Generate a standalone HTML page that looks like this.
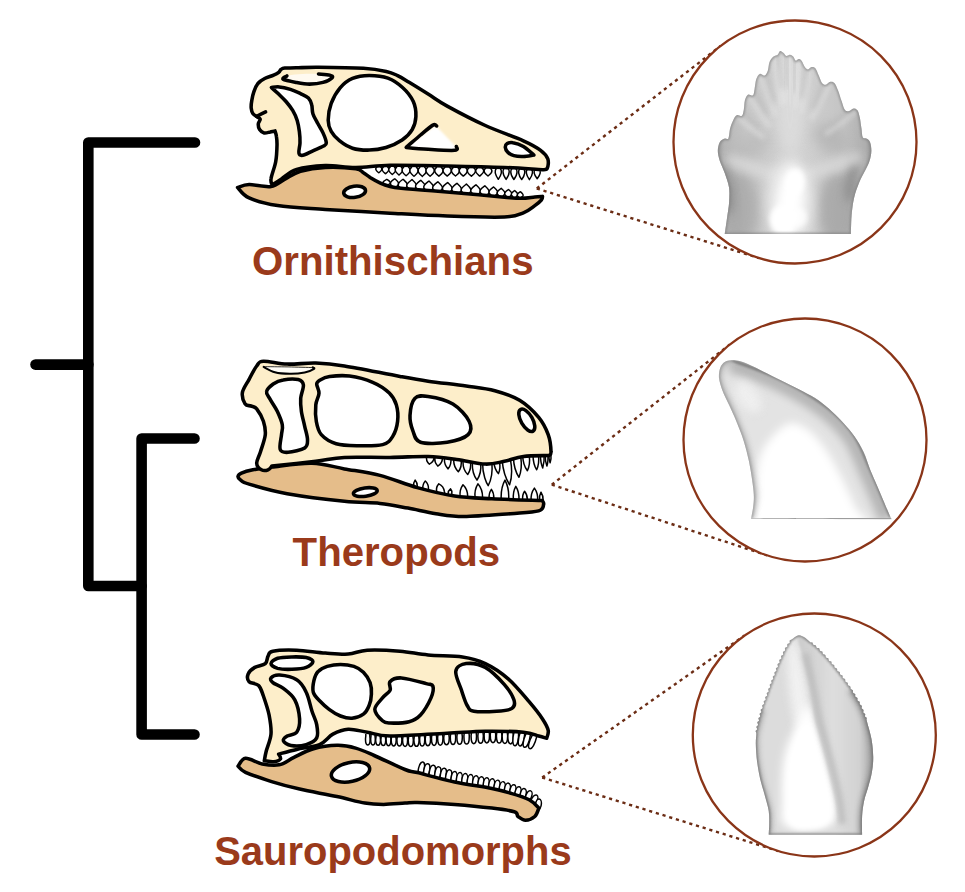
<!DOCTYPE html>
<html><head><meta charset="utf-8"><title>Dinosaur teeth</title>
<style>html,body{margin:0;padding:0;background:#fff}svg{display:block}</style></head>
<body><svg width="965" height="892" viewBox="0 0 965 892">
<rect width="965" height="892" fill="#fff"/>
<g fill="none" stroke="#000" stroke-width="10.6" stroke-linecap="round" stroke-linejoin="round">
<path d="M195 142.5H88.3V586H141.5"/>
<path d="M35.5 364.6H88.3"/>
<path d="M194.5 438.5H141.6V734.5H194.5"/>
</g>
<g font-family="Liberation Sans, sans-serif" font-weight="700" fill="#9a3a1b" font-size="41.5px">
<text x="252" y="274.8" textLength="281.5" lengthAdjust="spacingAndGlyphs">Ornithischians</text>
<text x="292.6" y="566.4" textLength="207.5" lengthAdjust="spacingAndGlyphs">Theropods</text>
<text x="214.2" y="864.7" textLength="357.5" lengthAdjust="spacingAndGlyphs">Sauropodomorphs</text>
</g>
<g fill="none" stroke="#8a3518">
<path d="M536.8 188.5L720.5 46.0" stroke="#6b2c14" stroke-width="2.4" stroke-dasharray="3.2 3.8"/>
<path d="M536.8 188.5L758.7 258.0" stroke="#6b2c14" stroke-width="2.4" stroke-dasharray="3.2 3.8"/>
<path d="M551.8 484.7L729.8 344.5" stroke="#6b2c14" stroke-width="2.4" stroke-dasharray="3.2 3.8"/>
<path d="M551.8 484.7L767.1 555.4" stroke="#6b2c14" stroke-width="2.4" stroke-dasharray="3.2 3.8"/>
<path d="M542.2 777.5L744.5 635.5" stroke="#6b2c14" stroke-width="2.4" stroke-dasharray="3.2 3.8"/>
<path d="M542.2 777.5L778.2 851.0" stroke="#6b2c14" stroke-width="2.4" stroke-dasharray="3.2 3.8"/>
<circle cx="795" cy="142" r="121.5" stroke-width="2.3" fill="#fff"/>
<circle cx="805" cy="440" r="121.5" stroke-width="2.3" fill="#fff"/>
<circle cx="814.3" cy="735" r="121.5" stroke-width="2.3" fill="#fff"/>
</g>
<defs>
<filter id="b1" x="-50%" y="-50%" width="200%" height="200%"><feGaussianBlur stdDeviation="1.2"/></filter>
<filter id="b2" x="-50%" y="-50%" width="200%" height="200%"><feGaussianBlur stdDeviation="2.5"/></filter>
<filter id="b4" x="-50%" y="-50%" width="200%" height="200%"><feGaussianBlur stdDeviation="4"/></filter>
<filter id="b6" x="-50%" y="-50%" width="200%" height="200%"><feGaussianBlur stdDeviation="6"/></filter>
<filter id="b9" x="-50%" y="-50%" width="200%" height="200%"><feGaussianBlur stdDeviation="9"/></filter>
<filter id="b14" x="-50%" y="-50%" width="200%" height="200%"><feGaussianBlur stdDeviation="14"/></filter>
<clipPath id="c1"><path d="M724.7 234.1C725.1 231.3 726.4 222.6 727.1 217.4C727.9 212.1 728.8 207.5 729.1 202.6C729.4 197.7 729.8 192.7 729.1 187.8C728.4 182.9 726.2 177.5 724.7 173C723.1 168.5 720.9 164.4 719.7 160.7C718.6 157 717.8 153.9 717.8 150.8C717.8 147.7 718.6 144.2 719.7 142.2C720.9 140.1 723.2 139.1 724.7 138.5C726.1 137.9 727.4 140.1 728.4 138.5C729.3 136.8 729.3 131.7 730.1 128.6C730.9 125.5 732.1 122.3 733.3 120C734.4 117.7 735.5 115.8 737 115.1C738.4 114.4 740.8 116.8 741.9 115.8C743.1 114.8 743.4 111.5 743.9 108.9C744.4 106.3 744.2 102.6 744.9 100.3C745.6 97.9 746.7 95.4 748.1 94.6C749.4 93.8 751.9 96.4 753 95.3C754.1 94.2 754.2 90.6 754.7 87.9C755.3 85.3 755.4 81.7 756.2 79.3C757 77 758.3 74.5 759.7 73.9C761.1 73.3 763.2 76.1 764.6 75.6C766 75.1 767 72.9 767.8 70.7C768.6 68.4 768.6 64.4 769.5 62.1C770.5 59.7 772.1 57.9 773.5 56.6C774.8 55.4 776.6 55.6 777.7 54.7C778.8 53.7 779.2 51.3 780.1 51C781.1 50.6 782.3 51.9 783.3 52.7C784.4 53.5 785.2 55.6 786.3 55.9C787.4 56.2 788.8 54.5 790 54.7C791.1 54.8 792.3 55.6 793.2 56.6C794.1 57.7 794.8 60.4 795.7 60.8C796.6 61.2 797.6 59.1 798.6 59.1C799.6 59.1 800.6 59.5 801.6 60.8C802.6 62.1 803.7 65.5 804.8 67C805.9 68.4 806.9 69.4 808 69.4C809.1 69.4 810.2 67.2 811.4 67C812.7 66.8 814.2 66.8 815.4 68.2C816.6 69.7 817.7 73.1 818.8 75.6C819.9 78.1 820.9 81.5 822 83C823.2 84.5 824.4 84.9 825.7 84.7C827.1 84.5 828.7 82.1 830.2 81.8C831.6 81.5 833.1 81.6 834.4 83C835.7 84.4 836.8 87.3 838.1 90.4C839.3 93.5 840.6 98.2 841.8 101.5C842.9 104.8 843.7 108.6 845 110.1C846.2 111.7 847.8 111.2 849.2 110.9C850.6 110.6 852 108.5 853.4 108.4C854.7 108.3 856.2 108.6 857.3 110.1C858.4 111.6 859.1 114.4 859.8 117.5C860.5 120.6 861 125.3 861.5 128.6C862 131.9 861.9 135.6 862.7 137.2C863.5 138.9 865.2 137.7 866.4 138.5C867.7 139.3 869.3 140.1 870.1 142.2C870.9 144.2 871.4 147.7 871.4 150.8C871.3 153.9 870.7 157.4 869.6 160.7C868.6 164 867 166.8 865.2 170.5C863.4 174.2 860.9 178.3 859 182.9C857.2 187.4 855.3 192.3 854.1 197.7C852.9 203 852.2 208.8 851.6 214.9C851.1 221 851 230.9 850.9 234.1C829.8 234.1 745.7 234.1 724.7 234.1Z"/></clipPath>
<linearGradient id="g1" x1="0" x2="1" y1="0" y2="0"><stop offset="0" stop-color="#949494"/><stop offset="0.06" stop-color="#b6b6b6"/><stop offset="0.2" stop-color="#c8c8c8"/><stop offset="0.5" stop-color="#d4d4d4"/><stop offset="0.8" stop-color="#c4c4c4"/><stop offset="0.94" stop-color="#aeaeae"/><stop offset="1" stop-color="#8e8e8e"/></linearGradient>
<clipPath id="c2"><path d="M751.1 518.6C751.5 516.5 752.9 509.8 753.3 505.8C753.8 501.8 754 499.1 753.8 494.6C753.6 490.2 752.8 484.6 752 479C751.2 473.3 750.2 467.4 748.9 461C747.5 454.7 745.7 447.2 743.7 440.9C741.7 434.5 739.4 428.9 737 422.9C734.6 416.9 731.6 410.4 729.1 405C726.7 399.6 724.1 394.9 722.4 390.4C720.7 385.9 719.4 381.8 719 378.1C718.7 374.4 719.2 370.7 720.2 368C721.1 365.3 722.8 363.3 724.7 362C726.5 360.7 728.8 360.3 731.4 360.2C734 360.1 737 360.4 740.3 361.3C743.7 362.2 747.1 363.7 751.5 365.8C756 367.8 761.6 370.8 767.2 373.6C772.8 376.4 779.2 379.6 785.2 382.6C791.1 385.6 797.5 388.6 803.1 391.5C808.7 394.5 813.9 397.1 818.8 400.5C823.6 403.9 828.1 408 832.2 411.7C836.3 415.5 839.7 418.8 843.4 422.9C847.2 427 851.3 431.5 854.6 436.4C858 441.2 861 446.5 863.6 452.1C866.2 457.7 868.1 464.4 870.3 470C872.6 475.6 874.8 480.4 877.1 485.7C879.3 490.9 881.5 496.1 883.8 501.4C886 506.6 889.2 514.1 890.5 517.1C891.8 520 891.6 518.9 891.8 519.3C868.4 519.2 774.6 518.7 751.1 518.6Z"/></clipPath>
<clipPath id="c3"><path d="M768.7 834.7C768.8 832.8 769.2 827.8 769.2 823.8C769.2 819.9 769.4 815.6 768.7 810.9C768 806.2 766.2 800.6 764.8 795.4C763.5 790.3 761.7 785.5 760.4 780C759.2 774.4 757.9 767.9 757.1 761.9C756.3 755.9 755.9 748.6 755.8 743.8C755.7 739.1 756.4 735.6 756.3 733.5C756.3 731.4 755.3 731.8 755.5 731.1C755.6 730.4 757 729.9 757.2 729.2C757.3 728.5 756.2 727.5 756.3 726.8C756.5 726.1 757.9 725.6 758 724.9C758.2 724.2 757.1 723.1 757.3 722.4C757.4 721.7 758.9 721.3 759.1 720.6C759.3 719.9 758.2 718.9 758.4 718.2C758.6 717.5 760 717.1 760.2 716.4C760.4 715.7 759.4 714.6 759.6 713.9C759.8 713.2 761.2 712.8 761.4 712.1C761.6 711.4 760.5 710.4 760.7 709.7C760.9 709 762.4 708.6 762.6 707.9C762.9 707.2 761.9 706.1 762.2 705.4C762.4 704.7 763.9 704.5 764.1 703.8C764.4 703.1 763.4 702 763.7 701.3C763.9 700.6 765.4 700.3 765.7 699.7C765.9 699 764.9 697.8 765.2 697.1C765.4 696.5 766.9 696.2 767.2 695.5C767.4 694.8 766.4 693.7 766.7 693C766.9 692.3 768.4 692.1 768.7 691.4C768.9 690.7 767.9 689.6 768.2 688.9C768.4 688.2 769.9 687.9 770.2 687.3C770.4 686.6 769.4 685.4 769.7 684.7C769.9 684.1 771.4 683.8 771.7 683.1C771.9 682.4 770.9 681.3 771.2 680.6C771.5 679.9 772.9 679.7 773.2 679C773.5 678.3 772.5 677.2 772.8 676.5C773 675.8 774.5 675.6 774.8 674.9C775 674.2 774.1 673.1 774.4 672.4C774.6 671.7 776.1 671.5 776.4 670.8C776.6 670.1 775.7 669 775.9 668.3C776.2 667.6 777.7 667.4 777.9 666.7C778.2 666 777.2 664.9 777.5 664.2C777.8 663.5 779.3 663.3 779.6 662.6C779.9 661.9 779 660.7 779.3 660.1C779.6 659.4 781.1 659.3 781.4 658.6C781.7 657.9 780.8 656.7 781.1 656.1C781.4 655.4 782.9 655.3 783.2 654.6C783.5 653.9 782.7 652.7 783 652.1C783.3 651.4 784.7 651.3 785 650.6C785.4 649.9 784.6 648.6 785 648C785.4 647.4 786.9 647.4 787.3 646.8C787.6 646.2 786.9 644.9 787.3 644.3C787.7 643.6 789.2 643.7 789.6 643.1C790 642.5 789.3 641.2 789.7 640.5C790 639.9 790.6 640.2 791.9 639.3C793.2 638.5 795.7 635.9 797.6 635.5C799.5 635 801.5 635.7 803.5 636.8C805.6 637.8 808.5 641 810 641.9C811.5 642.9 811.9 642 812.4 642.5C813 643 812.8 644.3 813.4 644.8C813.9 645.3 815.2 644.9 815.8 645.4C816.4 645.9 816.2 647.2 816.7 647.7C817.3 648.2 818.6 647.8 819.2 648.3C819.7 648.8 819.5 650.2 820 650.8C820.5 651.3 821.8 651.1 822.3 651.6C822.8 652.2 822.5 653.5 823 654.1C823.5 654.6 824.8 654.4 825.3 655C825.8 655.5 825.5 656.8 826 657.4C826.5 657.9 827.8 657.7 828.3 658.3C828.8 658.8 828.4 660.1 828.9 660.7C829.4 661.2 830.8 661 831.3 661.6C831.8 662.1 831.4 663.5 831.8 664.1C832.3 664.7 833.7 664.5 834.1 665.1C834.6 665.7 834.1 667 834.6 667.6C835.1 668.1 836.4 668 836.9 668.6C837.4 669.2 836.9 670.5 837.4 671C837.9 671.6 839.2 671.5 839.7 672.1C840.2 672.6 839.7 673.9 840.2 674.5C840.6 675.1 842 675 842.5 675.6C842.9 676.2 842.4 677.5 842.8 678.1C843.3 678.7 844.7 678.6 845.1 679.2C845.5 679.8 845 681.1 845.5 681.7C845.9 682.3 847.3 682.2 847.7 682.8C848.1 683.4 847.6 684.7 848.1 685.3C848.5 685.9 849.9 685.8 850.3 686.4C850.8 687 850.3 688.3 850.7 688.9C851.1 689.5 852.5 689.5 852.9 690.2C853.3 690.8 852.7 692 853 692.7C853.4 693.3 854.8 693.4 855.2 694C855.5 694.7 854.9 695.9 855.3 696.5C855.6 697.2 857 697.2 857.4 697.9C857.8 698.5 857.1 699.7 857.5 700.4C857.9 701 859.3 701.1 859.6 701.7C860 702.4 859.4 703.6 859.8 704.2C860.1 704.9 861.5 705.1 861.8 705.8C862.1 706.5 861.3 707.6 861.6 708.3C861.9 709 863.2 709.2 863.5 709.9C863.8 710.6 863 711.7 863.3 712.4C863.6 713.1 865 713.3 865.2 714C865.5 714.7 864.7 715.8 865 716.5C865.3 717.2 866.7 717.4 867 718.1C867.2 718.8 866 717.2 866.7 720.6C867.5 724 870.3 732.7 871.4 738.7C872.5 744.7 873.1 751.1 873.2 756.7C873.3 762.3 872.8 767.1 871.9 772.2C871 777.4 869.3 783 868 787.7C866.7 792.4 865.1 795.9 864.2 800.6C863.2 805.3 862.4 810.4 862.1 816.1C861.8 821.8 862.1 831.6 862.1 834.7C846.5 834.7 784.3 834.7 768.7 834.7Z"/></clipPath>
<linearGradient id="g3" gradientUnits="userSpaceOnUse" x1="800" x2="874" y1="0" y2="0"><stop offset="0" stop-color="#cdcdcd"/><stop offset="0.45" stop-color="#dedede"/><stop offset="0.8" stop-color="#d2d2d2"/><stop offset="1" stop-color="#a8a8a8"/></linearGradient>
</defs>
<g clip-path="url(#c1)">
<rect x="715" y="45" width="160" height="195" fill="url(#g1)"/>
<ellipse cx="790" cy="101.5" rx="13.6" ry="54.2" fill="#dcdcdc" opacity="0.9" transform="rotate(0 790 101.5)" filter="url(#b6)"/>
<ellipse cx="830.7" cy="138.5" rx="18.5" ry="13.6" fill="#ababab" opacity="0.55" transform="rotate(35 830.7 138.5)" filter="url(#b6)"/>
<ellipse cx="753" cy="145.9" rx="18.5" ry="12.3" fill="#b0b0b0" opacity="0.45" transform="rotate(-30 753 145.9)" filter="url(#b6)"/>
<path d="M739.4 118.8L762.7 137.1" stroke="#e6e6e6" stroke-width="3.9" stroke-linecap="round" fill="none" filter="url(#b2)" opacity="0.6"/>
<path d="M750.5 98.3L768.8 125.8" stroke="#e6e6e6" stroke-width="3.9" stroke-linecap="round" fill="none" filter="url(#b2)" opacity="0.6"/>
<path d="M761.6 77.8L775 114.6" stroke="#e6e6e6" stroke-width="3.9" stroke-linecap="round" fill="none" filter="url(#b2)" opacity="0.6"/>
<path d="M775.2 59.1L782.4 104.3" stroke="#e6e6e6" stroke-width="3.9" stroke-linecap="round" fill="none" filter="url(#b2)" opacity="0.6"/>
<path d="M781.4 55.6L785.8 102.4" stroke="#e6e6e6" stroke-width="3.9" stroke-linecap="round" fill="none" filter="url(#b2)" opacity="0.6"/>
<path d="M790 58.4L790.5 103.9" stroke="#e6e6e6" stroke-width="3.9" stroke-linecap="round" fill="none" filter="url(#b2)" opacity="0.6"/>
<path d="M798.6 62.8L795.3 106.3" stroke="#e6e6e6" stroke-width="3.9" stroke-linecap="round" fill="none" filter="url(#b2)" opacity="0.6"/>
<path d="M809.7 71.9L801.4 111.3" stroke="#e6e6e6" stroke-width="3.9" stroke-linecap="round" fill="none" filter="url(#b2)" opacity="0.6"/>
<path d="M828.7 86L811.8 119.1" stroke="#e6e6e6" stroke-width="3.9" stroke-linecap="round" fill="none" filter="url(#b2)" opacity="0.6"/>
<path d="M855.3 112.3L826.5 133.6" stroke="#e6e6e6" stroke-width="3.9" stroke-linecap="round" fill="none" filter="url(#b2)" opacity="0.6"/>
<path d="M743.9 112.6L758.1 127.8" stroke="#a6a6a6" stroke-width="3" stroke-linecap="round" fill="none" filter="url(#b2)" opacity="0.4"/>
<path d="M754.7 91.6L765.7 113.1" stroke="#a6a6a6" stroke-width="3" stroke-linecap="round" fill="none" filter="url(#b2)" opacity="0.4"/>
<path d="M766.6 74.9L774 101.4" stroke="#a6a6a6" stroke-width="3" stroke-linecap="round" fill="none" filter="url(#b2)" opacity="0.4"/>
<path d="M778.4 55.1L782.2 87.5" stroke="#a6a6a6" stroke-width="3" stroke-linecap="round" fill="none" filter="url(#b2)" opacity="0.4"/>
<path d="M785.6 54.7L787.3 87.2" stroke="#a6a6a6" stroke-width="3" stroke-linecap="round" fill="none" filter="url(#b2)" opacity="0.4"/>
<path d="M794.9 60.6L793.8 91.3" stroke="#a6a6a6" stroke-width="3" stroke-linecap="round" fill="none" filter="url(#b2)" opacity="0.4"/>
<path d="M806 69L801.6 97.2" stroke="#a6a6a6" stroke-width="3" stroke-linecap="round" fill="none" filter="url(#b2)" opacity="0.4"/>
<path d="M823.3 84.2L813.7 107.9" stroke="#a6a6a6" stroke-width="3" stroke-linecap="round" fill="none" filter="url(#b2)" opacity="0.4"/>
<path d="M848.4 110.9L831.3 126.5" stroke="#a6a6a6" stroke-width="3" stroke-linecap="round" fill="none" filter="url(#b2)" opacity="0.4"/>
<ellipse cx="740.7" cy="210" rx="18.5" ry="37" fill="#9a9a9a" opacity="0.55" transform="rotate(0 740.7 210)" filter="url(#b6)"/>
<ellipse cx="838.1" cy="210" rx="19.7" ry="37" fill="#989898" opacity="0.6" transform="rotate(0 838.1 210)" filter="url(#b6)"/>
<ellipse cx="851.6" cy="180.4" rx="6.4" ry="22.2" fill="#868686" opacity="0.7" transform="rotate(8 851.6 180.4)" filter="url(#b4)"/>
<ellipse cx="727.6" cy="187.8" rx="5.9" ry="27.1" fill="#888888" opacity="0.7" transform="rotate(-6 727.6 187.8)" filter="url(#b4)"/>
<path d="M731.6 160.7L789.5 180.4L855.8 158.2" fill="none" stroke="#dedede" stroke-width="12.3" stroke-linecap="round" filter="url(#b4)" opacity="0.65"/>
<ellipse cx="790" cy="202.6" rx="23.4" ry="44.4" fill="#ececec" opacity="0.85" transform="rotate(0 790 202.6)" filter="url(#b6)"/>
<ellipse cx="790" cy="202.6" rx="12.8" ry="35.7" fill="#ffffff" opacity="1" transform="rotate(6 790 202.6)" filter="url(#b4)"/>
<ellipse cx="782.6" cy="219.8" rx="12.8" ry="14.8" fill="#ffffff" opacity="1" transform="rotate(0 782.6 219.8)" filter="url(#b2)"/>
<ellipse cx="794.9" cy="182.9" rx="9.4" ry="13.6" fill="#ffffff" opacity="0.95" transform="rotate(10 794.9 182.9)" filter="url(#b2)"/>
<ellipse cx="798.6" cy="217.4" rx="8.6" ry="9.9" fill="#ffffff" opacity="0.8" transform="rotate(0 798.6 217.4)" filter="url(#b2)"/>
<path d="M724.7 234.1C725.1 231.3 726.4 222.6 727.1 217.4C727.9 212.1 728.8 207.5 729.1 202.6C729.4 197.7 729.8 192.7 729.1 187.8C728.4 182.9 726.2 177.5 724.7 173C723.1 168.5 720.9 164.4 719.7 160.7C718.6 157 717.8 153.9 717.8 150.8C717.8 147.7 718.6 144.2 719.7 142.2C720.9 140.1 723.2 139.1 724.7 138.5C726.1 137.9 727.4 140.1 728.4 138.5C729.3 136.8 729.3 131.7 730.1 128.6C730.9 125.5 732.1 122.3 733.3 120C734.4 117.7 735.5 115.8 737 115.1C738.4 114.4 740.8 116.8 741.9 115.8C743.1 114.8 743.4 111.5 743.9 108.9C744.4 106.3 744.2 102.6 744.9 100.3C745.6 97.9 746.7 95.4 748.1 94.6C749.4 93.8 751.9 96.4 753 95.3C754.1 94.2 754.2 90.6 754.7 87.9C755.3 85.3 755.4 81.7 756.2 79.3C757 77 758.3 74.5 759.7 73.9C761.1 73.3 763.2 76.1 764.6 75.6C766 75.1 767 72.9 767.8 70.7C768.6 68.4 768.6 64.4 769.5 62.1C770.5 59.7 772.1 57.9 773.5 56.6C774.8 55.4 776.6 55.6 777.7 54.7C778.8 53.7 779.2 51.3 780.1 51C781.1 50.6 782.3 51.9 783.3 52.7C784.4 53.5 785.2 55.6 786.3 55.9C787.4 56.2 788.8 54.5 790 54.7C791.1 54.8 792.3 55.6 793.2 56.6C794.1 57.7 794.8 60.4 795.7 60.8C796.6 61.2 797.6 59.1 798.6 59.1C799.6 59.1 800.6 59.5 801.6 60.8C802.6 62.1 803.7 65.5 804.8 67C805.9 68.4 806.9 69.4 808 69.4C809.1 69.4 810.2 67.2 811.4 67C812.7 66.8 814.2 66.8 815.4 68.2C816.6 69.7 817.7 73.1 818.8 75.6C819.9 78.1 820.9 81.5 822 83C823.2 84.5 824.4 84.9 825.7 84.7C827.1 84.5 828.7 82.1 830.2 81.8C831.6 81.5 833.1 81.6 834.4 83C835.7 84.4 836.8 87.3 838.1 90.4C839.3 93.5 840.6 98.2 841.8 101.5C842.9 104.8 843.7 108.6 845 110.1C846.2 111.7 847.8 111.2 849.2 110.9C850.6 110.6 852 108.5 853.4 108.4C854.7 108.3 856.2 108.6 857.3 110.1C858.4 111.6 859.1 114.4 859.8 117.5C860.5 120.6 861 125.3 861.5 128.6C862 131.9 861.9 135.6 862.7 137.2C863.5 138.9 865.2 137.7 866.4 138.5C867.7 139.3 869.3 140.1 870.1 142.2C870.9 144.2 871.4 147.7 871.4 150.8C871.3 153.9 870.7 157.4 869.6 160.7C868.6 164 867 166.8 865.2 170.5C863.4 174.2 860.9 178.3 859 182.9C857.2 187.4 855.3 192.3 854.1 197.7C852.9 203 852.2 208.8 851.6 214.9C851.1 221 851 230.9 850.9 234.1C829.8 234.1 745.7 234.1 724.7 234.1Z" fill="none" stroke="#808080" stroke-width="2.6" filter="url(#b1)" opacity="0.75"/>
</g>
<g clip-path="url(#c2)">
<rect x="715" y="355" width="185" height="170" fill="#e3e3e3"/>
<path d="M731.4 360.2C737.4 362.4 755.3 368.4 767.2 373.6C779.2 378.8 792.3 385.2 803.1 391.5C813.9 397.9 823.6 404.2 832.2 411.7C840.8 419.2 848.3 426.7 854.6 436.4C861 446.1 864.4 456.5 870.3 470C876.3 483.4 887.1 509.2 890.5 517.1" fill="none" stroke="#b6b6b6" stroke-width="24" filter="url(#b4)"/>
<path d="M754.9 526C737.4 521.2 756.9 505.5 757.1 496.9C757.4 488.3 755.4 482.7 756.5 474.5C757.6 466.3 758.7 456 763.9 447.6C769 439.2 780.1 427 787.4 424C794.7 421.1 801 425.2 807.6 429.6C814.1 434.1 820.8 442.7 826.6 450.9C832.4 459.2 837.5 469.4 842.3 479C847.2 488.5 852.4 500.2 855.8 508.1C859.1 515.9 879.3 523 862.5 526C845.7 529 772.5 530.9 754.9 526Z" fill="#fff" filter="url(#b4)"/>
<ellipse cx="748.2" cy="397.1" rx="17.9" ry="10.1" fill="#f0f0f0" opacity="0.9" transform="rotate(55 748.2 397.1)" filter="url(#b4)"/>
<path d="M731.4 360.2C737.4 362.4 755.3 368.4 767.2 373.6C779.2 378.8 792.3 385.2 803.1 391.5C813.9 397.9 823.6 404.2 832.2 411.7C840.8 419.2 848.3 426.7 854.6 436.4C861 446.1 864.4 456.5 870.3 470C876.3 483.4 887.1 509.2 890.5 517.1" fill="none" stroke="#6e6e6e" stroke-width="2.4" filter="url(#b1)" opacity="0.85"/>
<path d="M731.4 360.2C730.3 360.5 726.5 360.7 724.7 362C722.8 363.3 721.1 365.3 720.2 368C719.2 370.7 718.7 374.4 719 378.1C719.4 381.8 720.7 385.9 722.4 390.4C724.1 394.9 726.7 399.6 729.1 405C731.6 410.4 734.6 416.9 737 422.9C739.4 428.9 741.7 434.5 743.7 440.9C745.7 447.2 747.5 454.7 748.9 461C750.2 467.4 751.2 473.3 752 479C752.8 484.6 753.6 490.2 753.8 494.6C754 499.1 753.8 501.8 753.3 505.8C752.9 509.8 751.5 516.5 751.1 518.6" fill="none" stroke="#a0a0a0" stroke-width="7" filter="url(#b2)" opacity="0.6"/>
<path d="M731.4 360.2C730.3 360.5 726.5 360.7 724.7 362C722.8 363.3 721.1 365.3 720.2 368C719.2 370.7 718.7 374.4 719 378.1C719.4 381.8 720.7 385.9 722.4 390.4C724.1 394.9 726.7 399.6 729.1 405C731.6 410.4 734.6 416.9 737 422.9C739.4 428.9 741.7 434.5 743.7 440.9C745.7 447.2 747.5 454.7 748.9 461C750.2 467.4 751.2 473.3 752 479C752.8 484.6 753.6 490.2 753.8 494.6C754 499.1 753.8 501.8 753.3 505.8C752.9 509.8 751.5 516.5 751.1 518.6" fill="none" stroke="#8c8c8c" stroke-width="2.2" filter="url(#b1)" opacity="0.75"/>
<path d="M751 518.6H892" stroke="#9c9c9c" stroke-width="1.2" fill="none"/>
</g>
<g clip-path="url(#c3)">
<rect x="750" y="630" width="130" height="210" fill="#dcdcdc"/>
<ellipse cx="799.1" cy="697.4" rx="8.8" ry="59.3" fill="#f2f2f2" opacity="0.95" transform="rotate(-8 799.1 697.4)" filter="url(#b4)"/>
<path d="M785.5 826.4C778.2 822.1 782 810.9 781.6 800.6C781.2 790.3 781.7 774.4 782.9 764.5C784.1 754.6 786.4 747.9 788.8 741.3C791.3 734.6 794.5 730.5 797.6 724.5C800.7 718.5 804.5 705.4 807.4 705.1C810.3 704.9 813 717.2 815.1 723.2C817.3 729.2 818.1 733.5 820.3 741.3C822.4 749 825.5 759.7 828 769.6C830.6 779.5 834.6 792.4 835.8 800.6C837 808.8 837 814.4 835.3 818.7C833.5 823 833.8 825.1 825.5 826.4C817.2 827.7 792.8 830.7 785.5 826.4Z" fill="#fff" filter="url(#b4)"/>
<path d="M791.9 826.4C787.4 821.7 788.6 810.5 788 800.6C787.5 790.7 787.5 776.9 788.8 767.1C790.1 757.2 792.7 748.6 795.8 741.3C798.9 733.9 804 723.2 807.4 723.2C810.8 723.2 813.6 733.5 816.4 741.3C819.2 749 821.8 759.7 824.2 769.6C826.5 779.5 829.8 792 830.6 800.6C831.5 809.2 831.9 816.5 829.3 821.2C826.7 826 821.4 828.1 815.1 829C808.9 829.8 796.4 831.1 791.9 826.4Z" fill="#fff" filter="url(#b2)"/>
<path d="M797.6 635.5C797 638.7 801.5 650.1 803.5 658.7C805.6 667.3 808 677.2 810 687.1C811.9 697 813.5 709.9 815.1 718C816.8 726.2 817.7 728.1 819.8 736.1C821.8 744.1 824.9 755.2 827.5 765.8C830.1 776.3 833.5 790.7 835.3 799.3C837 807.9 837.2 811.1 837.8 817.4C838.4 823.6 834.1 833.5 838.9 836.7C843.7 839.9 861.7 844.9 866.7 836.7C871.8 828.5 868 801 869.3 787.7C870.6 774.4 874.1 765.8 874.5 756.7C874.8 747.7 873.7 742.5 871.4 733.5C869 724.5 865.4 712.7 860.3 702.6C855.2 692.5 847.8 682 840.9 672.9C834.1 663.8 824.6 653.5 819 647.9C813.4 642.3 811 641.4 807.4 639.3C803.8 637.3 798.2 632.3 797.6 635.5Z" fill="url(#g3)" filter="url(#b1)"/>
<path d="M805.3 653.5C806.6 659.1 810.8 676.3 813.1 687.1C815.4 697.8 817.2 709.7 819 718C820.9 726.4 822 729.4 824.2 737.4C826.3 745.3 829.3 755.4 831.9 765.8C834.5 776.1 837.9 789.6 839.6 799.3C841.4 809 842 819.7 842.5 823.8" fill="none" stroke="#bdbdbd" stroke-width="7" filter="url(#b2)" opacity="0.9"/>
<path d="M851.3 689.7C852.8 692.2 857.7 700 860.3 705.1C862.9 710.3 864.9 715 866.7 720.6C868.6 726.2 870.3 732.7 871.4 738.7C872.5 744.7 873.1 751.1 873.2 756.7C873.3 762.3 872.8 767.1 871.9 772.2C871 777.4 869.3 783 868 787.7C866.7 792.4 865.1 795.9 864.2 800.6C863.2 805.3 862.4 810.4 862.1 816.1C861.8 821.8 862.1 831.6 862.1 834.7" fill="none" stroke="#8a8a8a" stroke-width="7" filter="url(#b2)" opacity="0.75"/>
<path d="M768.7 834.7C768.8 832.8 769.2 827.8 769.2 823.8C769.2 819.9 769.4 815.6 768.7 810.9C768 806.2 766.2 800.6 764.8 795.4C763.5 790.3 761.7 785.5 760.4 780C759.2 774.4 757.9 767.9 757.1 761.9C756.3 755.9 755.9 748.6 755.8 743.8C755.7 739.1 755.2 739.3 756.3 733.5C757.4 727.7 761.3 713.1 762.2 709" fill="none" stroke="#9a9a9a" stroke-width="6" filter="url(#b2)" opacity="0.7"/>
<path d="M768.7 834.7C768.8 832.8 769.2 827.8 769.2 823.8C769.2 819.9 769.4 815.6 768.7 810.9C768 806.2 766.2 800.6 764.8 795.4C763.5 790.3 761.7 785.5 760.4 780C759.2 774.4 757.9 767.9 757.1 761.9C756.3 755.9 755.9 748.6 755.8 743.8C755.7 739.1 756.4 735.6 756.3 733.5C756.3 731.4 755.3 731.8 755.5 731.1C755.6 730.4 757 729.9 757.2 729.2C757.3 728.5 756.2 727.5 756.3 726.8C756.5 726.1 757.9 725.6 758 724.9C758.2 724.2 757.1 723.1 757.3 722.4C757.4 721.7 758.9 721.3 759.1 720.6C759.3 719.9 758.2 718.9 758.4 718.2C758.6 717.5 760 717.1 760.2 716.4C760.4 715.7 759.4 714.6 759.6 713.9C759.8 713.2 761.2 712.8 761.4 712.1C761.6 711.4 760.5 710.4 760.7 709.7C760.9 709 762.4 708.6 762.6 707.9C762.9 707.2 761.9 706.1 762.2 705.4C762.4 704.7 763.9 704.5 764.1 703.8C764.4 703.1 763.4 702 763.7 701.3C763.9 700.6 765.4 700.3 765.7 699.7C765.9 699 764.9 697.8 765.2 697.1C765.4 696.5 766.9 696.2 767.2 695.5C767.4 694.8 766.4 693.7 766.7 693C766.9 692.3 768.4 692.1 768.7 691.4C768.9 690.7 767.9 689.6 768.2 688.9C768.4 688.2 769.9 687.9 770.2 687.3C770.4 686.6 769.4 685.4 769.7 684.7C769.9 684.1 771.4 683.8 771.7 683.1C771.9 682.4 770.9 681.3 771.2 680.6C771.5 679.9 772.9 679.7 773.2 679C773.5 678.3 772.5 677.2 772.8 676.5C773 675.8 774.5 675.6 774.8 674.9C775 674.2 774.1 673.1 774.4 672.4C774.6 671.7 776.1 671.5 776.4 670.8C776.6 670.1 775.7 669 775.9 668.3C776.2 667.6 777.7 667.4 777.9 666.7C778.2 666 777.2 664.9 777.5 664.2C777.8 663.5 779.3 663.3 779.6 662.6C779.9 661.9 779 660.7 779.3 660.1C779.6 659.4 781.1 659.3 781.4 658.6C781.7 657.9 780.8 656.7 781.1 656.1C781.4 655.4 782.9 655.3 783.2 654.6C783.5 653.9 782.7 652.7 783 652.1C783.3 651.4 784.7 651.3 785 650.6C785.4 649.9 784.6 648.6 785 648C785.4 647.4 786.9 647.4 787.3 646.8C787.6 646.2 786.9 644.9 787.3 644.3C787.7 643.6 789.2 643.7 789.6 643.1C790 642.5 789.3 641.2 789.7 640.5C790 639.9 790.6 640.2 791.9 639.3C793.2 638.5 795.7 635.9 797.6 635.5C799.5 635 801.5 635.7 803.5 636.8C805.6 637.8 808.5 641 810 641.9C811.5 642.9 811.9 642 812.4 642.5C813 643 812.8 644.3 813.4 644.8C813.9 645.3 815.2 644.9 815.8 645.4C816.4 645.9 816.2 647.2 816.7 647.7C817.3 648.2 818.6 647.8 819.2 648.3C819.7 648.8 819.5 650.2 820 650.8C820.5 651.3 821.8 651.1 822.3 651.6C822.8 652.2 822.5 653.5 823 654.1C823.5 654.6 824.8 654.4 825.3 655C825.8 655.5 825.5 656.8 826 657.4C826.5 657.9 827.8 657.7 828.3 658.3C828.8 658.8 828.4 660.1 828.9 660.7C829.4 661.2 830.8 661 831.3 661.6C831.8 662.1 831.4 663.5 831.8 664.1C832.3 664.7 833.7 664.5 834.1 665.1C834.6 665.7 834.1 667 834.6 667.6C835.1 668.1 836.4 668 836.9 668.6C837.4 669.2 836.9 670.5 837.4 671C837.9 671.6 839.2 671.5 839.7 672.1C840.2 672.6 839.7 673.9 840.2 674.5C840.6 675.1 842 675 842.5 675.6C842.9 676.2 842.4 677.5 842.8 678.1C843.3 678.7 844.7 678.6 845.1 679.2C845.5 679.8 845 681.1 845.5 681.7C845.9 682.3 847.3 682.2 847.7 682.8C848.1 683.4 847.6 684.7 848.1 685.3C848.5 685.9 849.9 685.8 850.3 686.4C850.8 687 850.3 688.3 850.7 688.9C851.1 689.5 852.5 689.5 852.9 690.2C853.3 690.8 852.7 692 853 692.7C853.4 693.3 854.8 693.4 855.2 694C855.5 694.7 854.9 695.9 855.3 696.5C855.6 697.2 857 697.2 857.4 697.9C857.8 698.5 857.1 699.7 857.5 700.4C857.9 701 859.3 701.1 859.6 701.7C860 702.4 859.4 703.6 859.8 704.2C860.1 704.9 861.5 705.1 861.8 705.8C862.1 706.5 861.3 707.6 861.6 708.3C861.9 709 863.2 709.2 863.5 709.9C863.8 710.6 863 711.7 863.3 712.4C863.6 713.1 865 713.3 865.2 714C865.5 714.7 864.7 715.8 865 716.5C865.3 717.2 866.7 717.4 867 718.1C867.2 718.8 866 717.2 866.7 720.6C867.5 724 870.3 732.7 871.4 738.7C872.5 744.7 873.1 751.1 873.2 756.7C873.3 762.3 872.8 767.1 871.9 772.2C871 777.4 869.3 783 868 787.7C866.7 792.4 865.1 795.9 864.2 800.6C863.2 805.3 862.4 810.4 862.1 816.1C861.8 821.8 862.1 831.6 862.1 834.7C846.5 834.7 784.3 834.7 768.7 834.7Z" fill="none" stroke="#6a6a6a" stroke-width="2.4" filter="url(#b1)" opacity="0.8"/>
</g>
<g fill="#fff" stroke="#000" stroke-width="1.45" stroke-linejoin="round"><path d="M-1.5 -2L-1.7 0C-5 2.6 -1.3 5 0 6.1C1.3 5 5 2.6 1.7 0L1.5 -2" transform="translate(378.8 166.7) rotate(0)"/><path d="M-1.7 -2L-1.9 0C-5.6 2.9 -1.4 5.7 0 6.9C1.4 5.7 5.6 2.9 1.9 0L1.7 -2" transform="translate(385.5 166.8) rotate(0)"/><path d="M-1.8 -2L-2 0C-5.9 3.2 -1.5 6.2 0 7.6C1.5 6.2 5.9 3.2 2 0L1.8 -2" transform="translate(392.3 166.9) rotate(0)"/><path d="M-1.9 -2L-2.2 0C-6.3 3.4 -1.6 6.7 0 8.2C1.6 6.7 6.3 3.4 2.2 0L1.9 -2" transform="translate(399 166.9) rotate(0)"/><path d="M-2 -2L-2.3 0C-6.7 3.7 -1.7 7.2 0 8.8C1.7 7.2 6.7 3.7 2.3 0L2 -2" transform="translate(406.1 167) rotate(0)"/><path d="M-2.1 -2L-2.4 0C-7 3.9 -1.8 7.5 0 9.2C1.8 7.5 7 3.9 2.4 0L2.1 -2" transform="translate(414 167.1) rotate(0)"/><path d="M-2.1 -2L-2.4 0C-7 3.9 -1.8 7.5 0 9.2C1.8 7.5 7 3.9 2.4 0L2.1 -2" transform="translate(422.3 167.2) rotate(0)"/><path d="M-2.1 -2L-2.4 0C-7 3.8 -1.8 7.4 0 9C1.8 7.4 7 3.8 2.4 0L2.1 -2" transform="translate(430.1 167.3) rotate(0)"/><path d="M-2.1 -2L-2.4 0C-7 3.7 -1.8 7.2 0 8.8C1.8 7.2 7 3.7 2.4 0L2.1 -2" transform="translate(438.9 167.4) rotate(0)"/><path d="M-2.1 -2L-2.4 0C-7 3.6 -1.8 7.1 0 8.6C1.8 7.1 7 3.6 2.4 0L2.1 -2" transform="translate(447.2 167.5) rotate(0)"/><path d="M-2.1 -2L-2.4 0C-6.8 3.5 -1.7 6.9 0 8.4C1.7 6.9 6.8 3.5 2.4 0L2.1 -2" transform="translate(455.5 167.6) rotate(0)"/><path d="M-2.1 -2L-2.4 0C-6.8 3.5 -1.7 6.9 0 8.4C1.7 6.9 6.8 3.5 2.4 0L2.1 -2" transform="translate(463.3 167.7) rotate(0)"/><path d="M-2.1 -2L-2.4 0C-6.8 3.5 -1.7 6.9 0 8.4C1.7 6.9 6.8 3.5 2.4 0L2.1 -2" transform="translate(471.4 167.8) rotate(0)"/><path d="M-2 -2L-2.3 0C-6.7 3.4 -1.7 6.7 0 8.2C1.7 6.7 6.7 3.4 2.3 0L2 -2" transform="translate(479.7 167.9) rotate(0)"/><path d="M-2 -2L-2.2 0C-6.5 3.4 -1.6 6.6 0 8C1.6 6.6 6.5 3.4 2.2 0L2 -2" transform="translate(488 168) rotate(0)"/><path d="M-1.7 -2L-1.9 0C-4.7 3.3 -1.4 9 0 11C1.4 9 4.7 3.3 1.9 0L1.7 -2" transform="translate(498.3 168.3) rotate(0)"/><path d="M-1.7 -2L-1.9 0C-4.7 3.3 -1.4 9 0 11C1.4 9 4.7 3.3 1.9 0L1.7 -2" transform="translate(506.1 168.4) rotate(0)"/><path d="M-1.7 -2L-1.9 0C-4.7 3.3 -1.4 9 0 11C1.4 9 4.7 3.3 1.9 0L1.7 -2" transform="translate(513.9 168.5) rotate(0)"/><path d="M-1.7 -2L-1.9 0C-4.7 3.3 -1.4 9 0 11C1.4 9 4.7 3.3 1.9 0L1.7 -2" transform="translate(521.7 168.6) rotate(0)"/><path d="M-1.7 -2L-1.9 0C-4.7 3.3 -1.4 9 0 11C1.4 9 4.7 3.3 1.9 0L1.7 -2" transform="translate(529.4 168.7) rotate(0)"/><path d="M-1.7 -2L-1.9 0C-4.7 3 -1.4 8.2 0 10C1.4 8.2 4.7 3 1.9 0L1.7 -2" transform="translate(537.2 168.8) rotate(0)"/><path d="M-1.7 2L-2 0C-6 -1.8 -1.4 -4.1 0 -5C1.4 -4.1 6 -1.8 2 0L1.7 2" transform="translate(386.6 184.3) rotate(3)"/><path d="M-2 2L-2.3 0C-7 -2.7 -1.7 -6.1 0 -7.5C1.7 -6.1 7 -2.7 2.3 0L2 2" transform="translate(394.4 186.2) rotate(3)"/><path d="M-2.3 2L-2.5 0C-7.8 -3.2 -1.8 -7.2 0 -8.8C1.8 -7.2 7.8 -3.2 2.5 0L2.3 2" transform="translate(402.6 188) rotate(3)"/><path d="M-2.4 2L-2.7 0C-8.2 -3.3 -1.9 -7.5 0 -9.2C1.9 -7.5 8.2 -3.3 2.7 0L2.4 2" transform="translate(411.5 188.8) rotate(3)"/><path d="M-2.4 2L-2.7 0C-8.2 -3.3 -1.9 -7.5 0 -9.2C1.9 -7.5 8.2 -3.3 2.7 0L2.4 2" transform="translate(420.3 189.5) rotate(3)"/><path d="M-2.4 2L-2.7 0C-8.2 -3.3 -1.9 -7.5 0 -9.2C1.9 -7.5 8.2 -3.3 2.7 0L2.4 2" transform="translate(428.5 190.2) rotate(3)"/><path d="M-2.4 2L-2.7 0C-8.2 -3.3 -1.9 -7.5 0 -9.2C1.9 -7.5 8.2 -3.3 2.7 0L2.4 2" transform="translate(437.4 190.9) rotate(3)"/><path d="M-2.4 2L-2.7 0C-8.2 -3.3 -1.9 -7.5 0 -9.2C1.9 -7.5 8.2 -3.3 2.7 0L2.4 2" transform="translate(447.2 191.7) rotate(3)"/><path d="M-2.4 2L-2.7 0C-8.2 -3.3 -1.9 -7.5 0 -9.2C1.9 -7.5 8.2 -3.3 2.7 0L2.4 2" transform="translate(456.5 192.5) rotate(3)"/><path d="M-2.4 2L-2.7 0C-8.2 -3.3 -1.9 -7.5 0 -9.2C1.9 -7.5 8.2 -3.3 2.7 0L2.4 2" transform="translate(465.9 193.3) rotate(3)"/><path d="M-2.4 2L-2.7 0C-8.2 -3.3 -1.9 -7.5 0 -9.2C1.9 -7.5 8.2 -3.3 2.7 0L2.4 2" transform="translate(475.5 194) rotate(3)"/><path d="M-2.3 2L-2.5 0C-7.8 -3.2 -1.8 -7.2 0 -8.8C1.8 -7.2 7.8 -3.2 2.5 0L2.3 2" transform="translate(484.4 194.6) rotate(3)"/><path d="M-2.1 2L-2.4 0C-7.4 -3 -1.8 -6.7 0 -8.2C1.8 -6.7 7.4 -3 2.4 0L2.1 2" transform="translate(493.2 195.1) rotate(3)"/><path d="M-1.9 2L-2.2 0C-6.6 -2.7 -1.6 -6.1 0 -7.4C1.6 -6.1 6.6 -2.7 2.2 0L1.9 2" transform="translate(500.9 195.7) rotate(3)"/><path d="M-1.8 2L-2 0C-6.1 -2.4 -1.4 -5.4 0 -6.6C1.4 -5.4 6.1 -2.4 2 0L1.8 2" transform="translate(508.2 196.1) rotate(3)"/><path d="M-1.6 2L-1.8 0C-5.5 -2.2 -1.3 -4.9 0 -6C1.3 -4.9 5.5 -2.2 1.8 0L1.6 2" transform="translate(514.4 196.5) rotate(3)"/><path d="M-1.4 2L-1.6 0C-4.9 -1.9 -1.2 -4.3 0 -5.2C1.2 -4.3 4.9 -1.9 1.6 0L1.4 2" transform="translate(520.1 196.9) rotate(3)"/></g>
<path d="M237.6 187.5C239.5 187 243.5 184.8 249.1 184.6C254.6 184.4 264.9 187.5 271 186.5C277 185.6 280.3 181.4 285.3 178.9C290.2 176.3 293.8 173.2 300.5 171.3C307.2 169.4 316.1 167.9 325.3 167.4C334.5 167 349.4 167.9 355.8 168.8C362.1 169.7 361 171.4 363.4 172.8C365.8 174.2 367.3 175.6 370.1 177.4C372.9 179.1 377 181.5 380.4 183.1C383.7 184.6 386.6 185.6 390.1 186.5C393.5 187.4 394 187.5 401.1 188.2C408.1 188.9 420.6 189.9 432.1 190.8C443.6 191.8 458 192.9 470 193.9C482.1 195 495.8 196.4 504.4 197.2C512.9 197.9 516.4 198.4 521.5 198.3C526.6 198.3 531.4 197.3 534.8 197C538.3 196.7 541.2 196.5 542.5 196.4C542.3 197 542.8 198.3 541.5 199.8C540.2 201.4 537.9 203.4 534.8 205.6C531.8 207.7 528.5 210.9 523.4 212.8C518.3 214.7 517.1 216.5 504.4 217C491.6 217.5 466.2 216.7 447.2 216C428.1 215.4 410.3 214.3 390 213.2C369.7 212.1 344 210.6 325.3 209.4C306.6 208.1 290.4 207.5 277.6 205.6C264.9 203.7 255.7 201 249.1 197.9C242.4 194.9 239.5 189.2 237.6 187.5Z" fill="#e5bd8a" stroke="#000" stroke-width="3.55" stroke-linejoin="round" stroke-linecap="round" />
<ellipse cx="354.6" cy="191.8" rx="11" ry="5.6" transform="rotate(-8 354.6 191.8)" fill="#fff" stroke="#000" stroke-width="3.55"/>
<path d="M275 130.9C275.2 131.7 276.1 133.8 276.4 136.2C276.8 138.6 277.1 141 277 145.2C276.9 149.5 276.7 156.1 275.7 161.7C274.7 167.3 271.5 175 271 178.9C270.4 182.8 272.1 184 272.3 185C273.8 184 277.4 181.5 281.5 178.9C285.5 176.3 289.4 171.6 296.7 169.4C304 167.1 315.4 165.9 325.3 165.5C335.1 165.2 345 167.5 355.8 167.4C366.6 167.4 374.8 165.6 390 165.3C405.2 165.1 428.1 165.6 447.2 165.9C466.2 166.3 488.5 166.8 504.4 167.4C520.2 168.1 536.1 169.4 542.5 169.7C543.3 169.5 546.3 170.2 547.2 168.4C548.1 166.6 548.9 161.9 547.8 158.9C546.7 155.9 544.6 153.3 540.6 150.3C536.5 147.3 532.6 144.9 523.4 140.8C514.2 136.6 498 131.3 485.3 125.5C472.6 119.7 456.7 111.3 447.2 106.1C437.6 100.8 434.5 98 428.1 94.1C421.8 90.1 414.1 85.3 409.1 82.3C404 79.2 401.4 77.4 397.6 75.6C393.8 73.8 392 72.6 386.3 71.4C380.6 70.2 374.7 69 363.4 68.3C352.1 67.7 329.7 67.4 318.5 67.3C307.2 67.2 301.7 67.7 296.1 67.8C290.4 68 287.4 67.8 284.8 68.1C282.3 68.4 281.9 68.8 280.9 69.5C279.9 70.2 279.9 71.4 278.7 72.3C277.5 73.3 276 74.1 273.6 75.1C271.3 76.2 267.3 77.1 264.7 78.5C262 79.9 259.7 81.4 257.9 83.5C256.2 85.7 255 88.6 254 91.4C253 94.2 252.2 97.6 251.8 100.4C251.3 103.2 251 106 251.2 108.2C251.4 110.4 252 112.2 252.9 113.6C253.8 115 255.6 115.7 256.8 116.6C258 117.5 259.9 118 260.2 119.2C260.4 120.4 258.4 122.2 258.3 123.9C258.2 125.6 258.6 128 259.6 129.5C260.6 131 262.3 132.5 264.1 132.9C265.9 133.3 268.5 132.3 270.3 132C272.1 131.6 274.2 131 275 130.9Z" fill="#fdeeca" stroke="#000" stroke-width="3.55" stroke-linejoin="round" stroke-linecap="round" />
<path d="M256.8 116.3C258.3 115.5 264.1 112.6 265.6 111.9" fill="none" stroke="#000" stroke-width="3.55" stroke-linejoin="round" stroke-linecap="round"/>
<path d="M328.2 120.2C328.2 115.6 329.2 108.8 331.2 103.4C333.2 98 336.6 91.9 340.1 87.8C343.7 83.6 347.6 80.5 352.5 78.4C357.3 76.4 363.3 75.5 369.3 75.4C375.2 75.4 382.3 76 387.9 78.1C393.5 80.1 398.6 83.8 402.8 87.8C407.1 91.7 411.1 96.8 413.3 101.6C415.5 106.4 416.1 111.8 415.9 116.5C415.7 121.2 414.5 125.6 412.2 129.6C409.9 133.5 406.4 137 402.1 140C397.7 143 391.5 145.8 386 147.5C380.6 149.1 374.9 150 369.3 150.1C363.7 150.2 357.4 149.8 352.5 148.2C347.5 146.7 342.9 143.5 339.4 140.7C335.9 137.9 333.1 134.8 331.2 131.4C329.3 128 328.2 124.9 328.2 120.2Z" fill="#fff" stroke="#000" stroke-width="3.55" stroke-linejoin="round" stroke-linecap="round" />
<path d="M271.4 87.5C272.7 87.4 276.1 86.6 279.2 86.9C282.4 87.2 286.9 88.3 290.4 89.4C294 90.5 297.5 92.2 300.5 93.6C303.5 95.1 306.5 96.2 308.4 98.1C310.3 100 311 102.2 311.7 104.8C312.5 107.5 311.9 110.8 312.9 113.8C313.8 116.8 315.7 119.6 317.4 122.8C319 126 321.5 129.5 323 132.9C324.5 136.2 326.3 140.7 326.3 143C326.3 145.2 325.2 145 323 146.3C320.7 147.6 316.2 149.3 312.9 150.8C309.5 152.3 305.1 154.9 302.8 155.3C300.4 155.7 299.3 155.1 298.9 153C298.4 151 299.9 146.5 300 143C300.1 139.4 299.9 135.5 299.4 131.7C298.9 128 298.3 124.1 297.2 120.5C296.1 117 294.6 113.6 292.7 110.4C290.8 107.3 288.4 104.3 286 101.5C283.5 98.7 280.5 96 278.1 93.6C275.7 91.3 272.5 88.5 271.4 87.5Z" fill="#fff" stroke="#000" stroke-width="3.55" stroke-linejoin="round" stroke-linecap="round" />
<path d="M283.2 79.3C281.9 78.2 284.9 76.6 288.2 75.7C291.5 74.8 297.7 74.3 302.8 74C307.8 73.7 314 73.8 318.5 74C323 74.2 327.4 74.5 329.7 75.1C332 75.8 333.3 76.5 332.2 77.7C331 78.9 326.7 81.4 323 82.4C319.2 83.5 314 84.1 309.5 84.1C305 84.1 300.4 83.2 296.1 82.4C291.7 81.6 284.5 80.4 283.2 79.3Z" fill="#fffaf0" stroke="none"/>
<path d="M286.9 76C286.2 76.6 281.6 78.2 283.2 79.3C284.7 80.3 291.7 81.6 296.1 82.4C300.4 83.2 305 84.1 309.5 84.1C314 84.1 319.2 83.5 323 82.4C326.7 81.4 331 78.9 332.2 77.7C333.3 76.5 332 75.8 329.7 75.1C327.4 74.5 320.3 74.2 318.5 74" fill="none" stroke="#000" stroke-width="3.55" stroke-linejoin="round" stroke-linecap="round"/>
<path d="M435.7 125.5L406.2 147.4L454.8 150.3L455.8 146.5Z" fill="#fff" filter="url(#b1)"/>
<path d="M436.7 125.9C436.1 125.8 435.6 123.6 432.9 125.1C430.2 126.7 424.9 131.3 420.5 135C416 138.8 408.6 145.4 406.2 147.4C409.9 147.8 420 148.9 428.1 149.3C436.2 149.8 450.1 150.8 454.8 150.3C459.5 149.8 456.1 147.1 456.3 146.5" fill="none" stroke="#000" stroke-width="3.55" stroke-linejoin="round" stroke-linecap="round"/>
<path d="M533.9 155.1C532.1 155.3 526.7 156.3 523.4 156.4C520.1 156.5 516.5 156.3 513.9 155.6C511.3 154.9 509.2 153.6 507.8 152.2C506.4 150.8 505.4 148.9 505.3 147.4C505.2 146 505.9 144.4 507.2 143.6C508.5 142.8 510.2 142.2 512.9 142.7C515.6 143.1 519.9 144.4 523.4 146.5C526.9 148.5 532.1 153.6 533.9 155.1Z" fill="#fff" stroke="#000" stroke-width="3.55" stroke-linejoin="round" stroke-linecap="round" />
<g fill="#fff" stroke="#000" stroke-width="1.5" stroke-linejoin="round"><path d="M434.3 455.1L434.1 457.1C434 460.9 430.8 463.5 429.4 464.2C428.3 463.2 425.7 459.9 426.7 456.1L426.9 454.2"/><path d="M442.7 455.9L442.5 457.9C442.4 462.3 439.2 465.2 437.8 466.1C436.7 464.9 434.1 461.4 435 457.1L435.3 455.1"/><path d="M450.8 456.3L450.9 458.3C451.5 463.5 449.1 467.6 448.1 468.9C446.9 467.7 444.2 463.9 444.4 458.6L444.3 456.6"/><path d="M461 458L461.1 460C462 465.7 459.5 470.2 458.3 471.7C457 470.4 453.7 466.4 453.7 460.6L453.5 458.6"/><path d="M470.3 459.9L470.5 461.9C471.4 468 468.8 472.9 467.7 474.5C466.3 473.1 463 468.7 463 462.5L462.9 460.5"/><path d="M480.7 461L480.7 463C481.5 471.5 478.4 478 477 480.1C475.5 478.1 472.1 471.7 472.3 463.2L472.3 461.2"/><path d="M491.8 460.9L491.9 462.9C492.9 474.2 489.7 482.9 488.2 485.7C486.5 483.1 482.5 474.6 482.6 463.3L482.5 461.3"/><path d="M499 459.2L499.3 461.2C500.6 467.1 499.2 472 498.4 473.6C497.3 472.3 494.4 468.1 493.8 462.1L493.5 460.1"/><path d="M510.3 457.8L510.5 459.8C512.7 471.9 510.7 481.6 509.6 484.8C507.8 482 503.3 473.2 502.2 460.9L502 458.9"/><path d="M520.6 455.2L520.8 457.2C522.2 467 520 474.8 519 477.3C517.5 475.1 513.9 467.8 513.4 457.9L513.2 455.9"/><path d="M529 453.4L529.2 455.4C530.3 462.9 528.3 468.9 527.4 470.8C526.1 469.1 523 463.6 522.7 456L522.5 454"/><path d="M538.4 452.6L538.5 454.6C539.3 462.1 537.5 468 536.7 469.8C535.6 468.1 533.1 462.5 533 454.9L532.8 452.9"/><path d="M544.1 451.8L544.1 453.8C544.6 460.8 543.2 466.3 542.7 468C542 466.3 540.4 460.9 540.4 453.9L540.4 451.9"/><path d="M547.8 451.8L547.9 453.8C548.3 459.9 547.4 464.6 546.9 466.1C546.4 464.7 545.1 460 545.1 453.9L545 451.9"/><path d="M551 451.8L551 453.8C551.3 458.3 550.5 461.7 550.1 462.8C549.7 461.7 548.8 458.3 548.8 453.8L548.8 451.8"/><path d="M413.7 488.6L413.6 486.6C413.2 483.4 414.5 480.9 415.1 480.1C415.7 480.8 417.3 483.2 417.3 486.3L417.4 488.3"/><path d="M423 491L422.9 489C422.4 485.1 424.4 482 425.3 481C426.3 481.9 428.6 484.8 428.5 488.7L428.6 490.7"/><path d="M437.4 494.8L437 492.9C435.6 488.9 437.7 485.1 438.8 483.8C440.2 484.5 443.8 487 444.3 491.2L444.7 493.2"/><path d="M447.9 495.7L448.1 493.7C448.2 491.2 449.8 489.4 450.5 488.9C451.1 489.5 452.3 491.6 451.8 494.1L451.6 496.1"/><path d="M460.4 499L460.2 497C459.3 491.1 461.9 486.3 463 484.8C464.4 486.1 467.6 490.4 467.7 496.4L467.8 498.4"/><path d="M475.3 499.9L475.1 497.9C474.2 491 476.8 485.6 477.9 483.8C479.3 485.4 482.6 490.5 482.6 497.4L482.7 499.4"/><path d="M489.1 500.6L489.1 498.6C488.8 494 490.6 490.5 491.4 489.4C492.2 490.5 494 494 493.8 498.5L493.8 500.5"/><path d="M501.2 500.9L501.2 498.9C500.8 489.5 503.7 482.4 505 480.1C506.2 482.4 509.2 489.5 508.7 498.9L508.7 500.9"/><path d="M513.4 501.6L513.4 499.6C512.8 493 514.9 487.9 515.8 486.3C516.8 487.8 519.1 492.8 519 499.4L519 501.4"/><path d="M522.8 502.2L522.7 500.2C522.2 495.8 523.8 492.4 524.6 491.3C525.4 492.3 527.4 495.5 527.4 499.9L527.5 501.9"/><path d="M531.1 502.4L531.1 500.4C530.7 494.3 533.3 489.6 534.4 488.1C535.5 489.6 538.1 494.3 537.6 500.5L537.6 502.5"/><path d="M539.6 502.9L539.5 500.9C539.1 496.6 540.4 493.3 541 492.2C541.7 493.2 543.3 496.4 543.2 500.7L543.3 502.7"/></g>
<path d="M542.3 500.6C542.5 501.2 544.2 502.6 543.6 504.4C543 506.1 544.1 509.3 538.6 510.9C533 512.4 523 512.7 510.6 513.7C498.1 514.6 476.4 516.5 463.9 516.5C451.5 516.5 445.3 515.1 436 513.7C426.6 512.3 417.3 509.8 408 508.1C398.7 506.4 390.6 504.6 380 503.4C369.4 502.3 359.8 502.9 344.4 501.3C328.9 499.7 303.1 496.5 287.2 493.7C271.3 490.8 256.8 486.4 249.1 484.1C241.3 481.8 242.3 481.2 240.5 479.9C238.6 478.7 237.8 477.6 238 476.5C238.2 475.4 239 474.2 241.4 473.1C243.9 472 247.8 470.8 252.9 469.8C258 468.8 262.1 468.1 271.9 467C281.8 465.9 299.9 462.8 312 463.2C324 463.5 333 466.8 344.4 468.9C355.7 470.9 367.8 472.3 380 475.4C392.2 478.6 404.9 484.1 417.3 487.6C429.7 491 442.2 494.1 454.6 496C467 497.8 477.3 498 491.9 498.8C506.5 499.5 533.9 500.3 542.3 500.6Z" fill="#e5bd8a" stroke="#000" stroke-width="3.55" stroke-linejoin="round" stroke-linecap="round" />
<ellipse cx="365.3" cy="492.1" rx="12" ry="4.2" transform="rotate(-8 365.3 492.1)" fill="#fff" stroke="#000" stroke-width="3.55"/>
<path d="M549.1 455.5C544.9 455.7 530.9 455.5 523.4 456.5C515.9 457.4 510.7 460 504.4 461.3C498 462.5 493.2 464.4 485.3 464.1C477.4 463.8 466.2 460.6 456.7 459.4C447.2 458.1 439.2 456.8 428.1 456.5C417 456.2 404 457.3 390 457.4C376 457.6 356.7 456.8 344.4 457.4C332 458.1 327.8 459.8 315.8 461.3C303.7 462.7 279.2 465.2 271.9 466C271.3 466.7 269.9 469.2 268.1 469.8C266.4 470.5 263.4 470.9 261.4 469.8C259.5 468.7 256.8 466.2 256.7 463.2C256.5 460.1 259.1 456.5 260.5 451.7C261.9 447 264.8 439.7 265.3 434.6C265.7 429.5 264.8 425.5 263.4 421.2C261.9 416.9 258.7 411.4 256.7 408.8C254.6 406.3 252.9 406.8 251 406C249.1 405.2 246.7 406.3 245.2 404.1C243.8 401.9 241.8 396.8 242.4 392.6C243 388.5 246.7 383.8 249.1 379.3C251.4 374.9 254.3 369 256.7 366C259.1 362.9 258.3 361.5 263.4 361.2C268.4 360.9 278.4 363.7 287.2 364.1C295.9 364.4 306.2 362.8 315.8 363.1C325.3 363.4 330.3 363.7 344.4 366C358.4 368.2 386 373.9 400 376.4C414 379 417.1 379.6 428.1 381.2C439.2 382.8 455.1 384.4 466.2 386C477.4 387.6 485.9 388.4 494.8 390.7C503.7 393.1 512.3 395.8 519.6 400.3C526.9 404.7 533.9 411.7 538.7 417.4C543.4 423.1 546.1 428.9 548.2 434.6C550.3 440.3 550.9 448.2 551 451.7C551.2 455.2 549.5 454.9 549.1 455.5Z" fill="#fdeeca" stroke="#000" stroke-width="3.55" stroke-linejoin="round" stroke-linecap="round" />
<path d="M266.6 391.5C267.1 389 270.5 386 273.2 384C276 382.1 279 380.6 283.2 379.9C287.3 379.1 294.7 378.7 298.1 379.5C301.5 380.4 303 381.8 303.4 384.9C303.8 387.9 301.1 393.7 300.7 398.1C300.4 402.5 300.7 406.7 301.4 411.4C302.1 416.1 303.7 421.6 304.7 426.3C305.7 431 307.5 436 307.5 439.6C307.5 443.2 308 445.7 304.7 447.9C301.5 450 292.2 452.1 288.1 452.3C284.1 452.6 281.3 452.5 280.2 449.5C279.1 446.6 281.1 438.7 281.5 434.6C281.9 430.5 283 428.5 282.3 424.7C281.6 420.8 279.4 415.7 277.4 411.4C275.3 407.1 271.7 402.3 269.9 398.9C268.1 395.6 266 394 266.6 391.5Z" fill="#fff" stroke="#000" stroke-width="3.55" stroke-linejoin="round" stroke-linecap="round" />
<path d="M316.7 384C316.6 386.2 319.1 389.7 319 393.1C318.9 396.6 316.3 400.1 315.8 404.8C315.4 409.4 315.4 416.4 316.3 421.3C317.2 426.3 318 430.9 321.3 434.6C324.6 438.3 330.2 441.9 336.2 443.7C342.3 445.6 350.1 445.6 357.8 445.7C365.5 445.9 376.9 446.1 382.7 444.6C388.5 443 390.1 440.5 392.6 436.6C395.1 432.7 397 426.6 397.6 421.3C398.2 416 397.7 409.4 396.3 404.8C394.9 400.1 393.2 396.9 389.3 393.1C385.4 389.4 379.4 385.2 372.7 382.4C366.1 379.5 356.7 377 349.5 376.1C342.3 375.1 334.6 375.9 329.6 376.6C324.6 377.2 321.8 379 319.7 380.2C317.5 381.5 316.8 381.9 316.7 384Z" fill="#fff" stroke="#000" stroke-width="3.55" stroke-linejoin="round" stroke-linecap="round" />
<path d="M410 415.5C410.3 410.1 411.8 401.5 414.8 398.4C417.8 395.2 421.8 395.5 428.1 396.5C434.5 397.4 446.1 400 452.9 404.1C459.7 408.2 466.6 416.2 469.1 421.2C471.6 426.3 471.8 431.1 468.1 434.6C464.5 438.1 455.1 440.9 447.2 442.2C439.2 443.5 426.2 444.1 420.5 442.2C414.8 440.3 414.6 435.2 412.9 430.8C411.1 426.3 409.7 420.9 410 415.5Z" fill="#fff" stroke="#000" stroke-width="3.55" stroke-linejoin="round" stroke-linecap="round" />
<ellipse cx="526.8" cy="420.3" rx="5.8" ry="12.5" transform="rotate(-30 526.8 420.3)" fill="#fff" stroke="#000" stroke-width="3.55"/>
<path d="M263.3 366.6C265.5 365.7 279.7 366.7 288.1 366.9C296.6 367.2 311.1 367.4 313.8 368.3C316.6 369.2 308.7 371.4 304.7 372.2C300.7 373.1 294.8 373.6 289.8 373.6C284.8 373.6 279.3 373.4 274.9 372.2C270.5 371.1 261.1 367.5 263.3 366.6Z" fill="#fffdf6" stroke="none"/>
<path d="M263.6 366.9C265.5 367.8 270.5 371.1 274.9 372.2C279.2 373.4 284.8 373.7 289.8 373.7C294.8 373.8 300.7 373.2 304.7 372.4C308.8 371.6 312.7 369.8 314 368.9C315.3 368.1 312.9 367.5 312.7 367.3" fill="none" stroke="#000" stroke-width="2.0" stroke-linejoin="round" stroke-linecap="round"/>
<path d="M263.6 366.6C267.7 366.7 280 366.8 288.1 366.9C296.3 367.1 308.6 367.5 312.7 367.6" fill="none" stroke="#000" stroke-width="0.8" stroke-linejoin="round" stroke-linecap="round"/>
<g fill="#fff" stroke="#000" stroke-width="1.5" stroke-linejoin="round"><path d="M-2 -2L-2 0C-2.8 4.5 -2.2 9 0 9C2.2 9 2.8 4.5 2 0L2 -2" transform="translate(367.8 735.9) rotate(0)"/><path d="M-2 -2L-2 0C-2.8 4.6 -2.2 9.2 0 9.2C2.2 9.2 2.8 4.6 2 0L2 -2" transform="translate(373 735.9) rotate(0)"/><path d="M-2 -2L-2 0C-2.9 4.7 -2.3 9.3 0 9.3C2.3 9.3 2.9 4.7 2 0L2 -2" transform="translate(378.1 736) rotate(0)"/><path d="M-2 -2L-2 0C-2.9 4.8 -2.3 9.5 0 9.5C2.3 9.5 2.9 4.8 2 0L2 -2" transform="translate(383.3 736) rotate(0)"/><path d="M-2.1 -2L-2.1 0C-2.9 4.8 -2.3 9.7 0 9.7C2.3 9.7 2.9 4.8 2.1 0L2.1 -2" transform="translate(388.5 736) rotate(0)"/><path d="M-2.1 -2L-2.1 0C-3 4.9 -2.3 9.8 0 9.8C2.3 9.8 3 4.9 2.1 0L2.1 -2" transform="translate(393.7 736.1) rotate(0)"/><path d="M-2.1 -2L-2.1 0C-3 5 -2.4 10 0 10C2.4 10 3 5 2.1 0L2.1 -2" transform="translate(399.4 736.1) rotate(0)"/><path d="M-2.1 -2L-2.1 0C-3 5.1 -2.4 10.2 0 10.2C2.4 10.2 3 5.1 2.1 0L2.1 -2" transform="translate(405.1 736.2) rotate(0)"/><path d="M-2.1 -2L-2.1 0C-3.1 5.2 -2.4 10.3 0 10.3C2.4 10.3 3.1 5.2 2.1 0L2.1 -2" transform="translate(410.8 736.2) rotate(0)"/><path d="M-2.2 -2L-2.2 0C-3.1 5.2 -2.4 10.5 0 10.5C2.4 10.5 3.1 5.2 2.2 0L2.2 -2" transform="translate(416.5 735.8) rotate(0)"/><path d="M-2.2 -2L-2.2 0C-3.1 5.3 -2.5 10.7 0 10.7C2.5 10.7 3.1 5.3 2.2 0L2.2 -2" transform="translate(422.2 735.4) rotate(0)"/><path d="M-2.2 -2L-2.2 0C-3.2 5.4 -2.5 10.8 0 10.8C2.5 10.8 3.2 5.4 2.2 0L2.2 -2" transform="translate(427.9 734.9) rotate(0)"/><path d="M-2.2 -2L-2.2 0C-3.2 5.5 -2.5 11 0 11C2.5 11 3.2 5.5 2.2 0L2.2 -2" transform="translate(434.1 734.4) rotate(0)"/><path d="M-2.3 -2L-2.3 0C-3.2 5.6 -2.5 11.2 0 11.2C2.5 11.2 3.2 5.6 2.3 0L2.3 -2" transform="translate(440.3 734) rotate(0)"/><path d="M-2.3 -2L-2.3 0C-3.3 5.7 -2.6 11.3 0 11.3C2.6 11.3 3.3 5.7 2.3 0L2.3 -2" transform="translate(446.5 733.5) rotate(0)"/><path d="M-2.3 -2L-2.3 0C-3.3 5.8 -2.6 11.5 0 11.5C2.6 11.5 3.3 5.8 2.3 0L2.3 -2" transform="translate(453 733) rotate(0)"/><path d="M-2.3 -2L-2.3 0C-3.3 5.8 -2.6 11.7 0 11.7C2.6 11.7 3.3 5.8 2.3 0L2.3 -2" transform="translate(459.6 732.6) rotate(0)"/><path d="M-2.3 -2L-2.3 0C-3.3 5.9 -2.6 11.8 0 11.8C2.6 11.8 3.3 5.9 2.3 0L2.3 -2" transform="translate(466.6 732.2) rotate(0)"/><path d="M-2.3 -2L-2.3 0C-3.3 6 -2.6 12 0 12C2.6 12 3.3 6 2.3 0L2.3 -2" transform="translate(473.8 731.7) rotate(0)"/><path d="M-2.3 -2L-2.3 0C-3.3 6 -2.6 12 0 12C2.6 12 3.3 6 2.3 0L2.3 -2" transform="translate(480.6 731.3) rotate(0)"/><path d="M-2.3 -2L-2.3 0C-3.3 6 -2.6 12 0 12C2.6 12 3.3 6 2.3 0L2.3 -2" transform="translate(486.8 730.9) rotate(0)"/><path d="M-2.3 -2L-2.3 0C-3.3 6 -2.6 12 0 12C2.6 12 3.3 6 2.3 0L2.3 -2" transform="translate(493 730.7) rotate(0)"/><path d="M-2.3 -2L-2.3 0C-3.3 6 -2.6 12 0 12C2.6 12 3.3 6 2.3 0L2.3 -2" transform="translate(499.2 731.1) rotate(0)"/><path d="M-2.3 -2L-2.3 0C-3.3 6 -2.6 12 0 12C2.6 12 3.3 6 2.3 0L2.3 -2" transform="translate(504.9 731.5) rotate(0)"/><path d="M-2.3 -2L-2.3 0C-3.3 6 -2.6 12 0 12C2.6 12 3.3 6 2.3 0L2.3 -2" transform="translate(510.6 731.9) rotate(0)"/><path d="M-2.3 -2L-2.3 0C-3.3 6.8 -2.6 13.5 0 13.5C2.6 13.5 3.3 6.8 2.3 0L2.3 -2" transform="translate(516.3 732.3) rotate(6)"/><path d="M-2.3 -2L-2.3 0C-3.3 6.8 -2.6 13.5 0 13.5C2.6 13.5 3.3 6.8 2.3 0L2.3 -2" transform="translate(522.5 732.7) rotate(11)"/><path d="M-2.3 -2L-2.3 0C-3.3 6.8 -2.6 13.5 0 13.5C2.6 13.5 3.3 6.8 2.3 0L2.3 -2" transform="translate(528.2 734.3) rotate(16)"/><path d="M-2.3 -2L-2.3 0C-3.3 6.8 -2.6 13.5 0 13.5C2.6 13.5 3.3 6.8 2.3 0L2.3 -2" transform="translate(534.5 736) rotate(21)"/><ellipse cx="420.4" cy="768.6" rx="2.9" ry="6.8" transform="rotate(13.2 420.4 773)"/><ellipse cx="425.9" cy="770.3" rx="2.9" ry="6.7" transform="rotate(10.6 425.9 774.7)"/><ellipse cx="431.5" cy="771.8" rx="2.9" ry="6.7" transform="rotate(10.6 431.5 776.1)"/><ellipse cx="437" cy="773.3" rx="2.9" ry="6.6" transform="rotate(10.6 437 777.5)"/><ellipse cx="442.5" cy="774.7" rx="2.9" ry="6.6" transform="rotate(10.6 442.5 778.9)"/><ellipse cx="447.9" cy="776.2" rx="2.9" ry="6.5" transform="rotate(10.6 447.9 780.3)"/><ellipse cx="453.4" cy="777.7" rx="2.9" ry="6.4" transform="rotate(9 453.4 781.7)"/><ellipse cx="458.8" cy="778.8" rx="2.9" ry="6.4" transform="rotate(7.9 458.8 782.7)"/><ellipse cx="464.2" cy="779.8" rx="2.9" ry="6.3" transform="rotate(7.9 464.2 783.7)"/><ellipse cx="469.6" cy="780.8" rx="2.9" ry="6.3" transform="rotate(7.9 469.6 784.6)"/><ellipse cx="475" cy="781.8" rx="2.9" ry="6.2" transform="rotate(7.9 475 785.6)"/><ellipse cx="480.4" cy="782.7" rx="2.9" ry="6.1" transform="rotate(7.9 480.4 786.5)"/><ellipse cx="485.7" cy="783.7" rx="2.9" ry="6.1" transform="rotate(7.9 485.7 787.4)"/><ellipse cx="491" cy="784.7" rx="2.9" ry="6" transform="rotate(9.7 491 788.3)"/><ellipse cx="496.3" cy="786" rx="2.9" ry="6" transform="rotate(10.5 496.3 789.6)"/><ellipse cx="501.6" cy="787.4" rx="2.9" ry="5.9" transform="rotate(10.5 501.6 790.9)"/><ellipse cx="506.8" cy="788.8" rx="2.9" ry="5.8" transform="rotate(10.5 506.8 792.2)"/><ellipse cx="512" cy="790.3" rx="2.9" ry="5.8" transform="rotate(13.6 512 793.7)"/><ellipse cx="517.2" cy="792.2" rx="2.9" ry="5.7" transform="rotate(13.6 517.2 795.5)"/><ellipse cx="522.4" cy="794.1" rx="2.9" ry="5.7" transform="rotate(13.6 522.4 797.3)"/><ellipse cx="527.6" cy="795.9" rx="2.9" ry="5.6" transform="rotate(20.7 527.6 799.1)"/><ellipse cx="532.8" cy="799.7" rx="2.9" ry="5.5" transform="rotate(27.1 532.8 802.9)"/><ellipse cx="537.9" cy="804.4" rx="2.9" ry="5.5" transform="rotate(9.3 537.9 807.5)"/></g>
<path d="M238.1 766.2C239.3 764.8 241.5 758.7 245.5 758.3C249.6 757.9 256.7 762.8 262.3 763.9C267.9 765 273.8 765.9 279.1 764.8C284.4 763.8 288.4 760 294 757.4C299.6 754.7 305.5 751 312.7 749C319.8 747 329.8 745.4 336.9 745.3C344.1 745.1 349.4 746.3 355.6 748.1C361.8 749.8 366 751.9 374.2 755.5C382.5 759.1 397.8 766.7 405 769.5C412.2 772.4 409 770.6 417.3 772.6C425.6 774.7 442.2 779.3 454.6 782C467 784.6 482.6 786.6 491.9 788.5C501.2 790.4 504.4 791.3 510.6 793.2C516.8 795 524.5 797.2 529.2 799.7C534 802.2 537.3 806.7 538.9 808.1C538.2 809.5 537.1 814.5 534.8 816.5C532.6 818.5 528.3 820.2 525.5 820.2C522.7 820.2 519.9 817.9 518 816.5C516.2 815.1 518.7 813.2 514.3 811.8C510 810.4 501.9 809.3 491.9 808.1C482 806.8 467 805.3 454.6 804.4C442.2 803.4 425.6 802.7 417.3 802.5C409 802.3 410.6 802.8 405 803.1C399.4 803.4 390.2 804.4 383.6 804.4C376.9 804.4 372.7 804.4 364.9 803.1C357.1 801.8 347.8 798.9 336.9 796.6C326 794.2 310.5 791.6 299.6 789.1C288.7 786.6 280.6 784.4 271.6 781.6C262.6 778.8 251.1 774.9 245.5 772.3C239.9 769.7 239.3 767.2 238.1 766.2Z" fill="#e5bd8a" stroke="#000" stroke-width="3.55" stroke-linejoin="round" stroke-linecap="round" />
<ellipse cx="350.5" cy="772" rx="19.5" ry="9.5" transform="rotate(-12 350.5 772)" fill="#fff" stroke="#000" stroke-width="3.55"/>
<path d="M546.7 738.3C545.3 737.9 542.5 737 538.7 736C534.8 735 532.3 733 523.4 732.2C514.5 731.4 498 731.1 485.3 731.2C472.6 731.4 463.1 732.4 447.2 733.2C431.3 733.9 403.3 736.2 390 736C376.7 735.9 374.2 733.3 367.2 732.2C360.2 731.1 353.9 729 348.2 729.3C342.4 729.7 337.7 731.6 332.9 734.1C328.2 736.6 325.6 742 319.6 744.6C313.5 747.1 303.5 747.8 296.7 749.4C289.9 750.9 281.6 753.3 278.6 754.1C278.9 754.9 281.3 757.6 280.5 758.9C279.7 760.2 276.5 761.4 273.8 761.7C271.1 762.1 265.9 760.9 264.3 760.8C264.6 759.2 265.1 755.7 266.2 751.3C267.3 746.8 270.5 740.1 271 734.1C271.5 728.1 270.3 721.4 269.1 715C267.8 708.7 265.1 700.9 263.4 696C261.6 691.1 261 687.9 258.6 685.5C256.2 683.1 250.8 683.6 249.1 681.7C247.3 679.8 247.2 676.5 248.1 674.1C249.1 671.7 251.9 669.1 254.8 667.4C257.6 665.7 263 665.5 265.3 663.6C267.5 661.7 266.8 658 268.1 656C269.4 653.9 268.1 652.2 272.9 651.2C277.6 650.2 288 649.9 296.7 650.2C305.4 650.6 316.7 652.5 325.3 653.1C333.9 653.7 341.2 654.5 348.2 654.1C355.2 653.6 358.6 650.7 367.2 650.2C375.9 649.8 389.9 650.4 400 651.2C410.2 652 417.7 654.1 428.1 655C438.5 656 452.9 655.5 462.4 656.9C472 658.3 477.7 659.9 485.3 663.6C492.9 667.2 500.9 672.5 508.2 678.8C515.5 685.2 523.4 695 529.1 701.7C534.8 708.4 539.3 714.1 542.5 718.9C545.6 723.6 547.5 727.1 548.2 730.3C548.9 733.5 546.9 737 546.7 738.3Z" fill="#fdeeca" stroke="#000" stroke-width="3.55" stroke-linejoin="round" stroke-linecap="round" />
<path d="M271 677.9C272.1 676.6 275.3 674.7 279.6 675C283.8 675.3 292.3 676.9 296.7 679.8C301.2 682.6 303.7 686.9 306.2 692.2C308.8 697.4 310.2 705.8 312 711.2C313.7 716.6 315.9 720.1 316.7 724.6C317.5 729 318.5 734.6 316.7 737.9C315 741.3 310.5 743.3 306.2 744.6C301.9 745.9 294.8 746.2 291 745.5C287.2 744.9 284 742.4 283.4 740.8C282.7 739.2 285 737.4 287.2 736C289.4 734.6 294.6 735.1 296.7 732.2C298.8 729.3 299.9 724.3 299.6 718.9C299.2 713.5 297.5 704.9 294.8 699.8C292.1 694.7 287 691.2 283.4 688.4C279.7 685.5 274.9 684.4 272.9 682.6C270.8 680.9 269.9 679.2 271 677.9Z" fill="#fff" stroke="#000" stroke-width="3.55" stroke-linejoin="round" stroke-linecap="round" />
<path d="M271 663.6C271 661.9 274.2 659.4 277.6 658.3C281.1 657.1 287.2 657 291.9 656.9C296.7 656.8 302.7 656.7 306.2 657.5C309.7 658.3 312.9 660 312.9 661.7C312.9 663.3 309.7 666.1 306.2 667.4C302.7 668.7 296.7 669.1 291.9 669.3C287.2 669.5 281.1 669.3 277.6 668.4C274.2 667.4 271 665.3 271 663.6Z" fill="#fff" stroke="#000" stroke-width="3.55" stroke-linejoin="round" stroke-linecap="round" />
<path d="M313.3 692.2C312.3 688.8 313.1 684.2 313.9 680.7C314.7 677.3 315.8 674 318.1 671.6C320.3 669.2 323.5 667.6 327.2 666.4C330.9 665.3 336.1 664.5 340.5 664.5C345 664.5 350.1 665.2 353.9 666.4C357.7 667.7 360.7 669.5 363.4 672.2C366.1 674.9 368.7 679 370.1 682.6C371.4 686.3 371.6 690.3 371.4 694.1C371.3 697.9 370.5 702.2 369.1 705.5C367.8 708.9 366.3 712 363.4 714.1C360.6 716.2 355.8 718 352 718.3C348.2 718.6 344.4 717.5 340.5 716C336.7 714.5 332.6 711.9 329.1 709.3C325.6 706.8 322.2 703.6 319.6 700.8C316.9 697.9 314.2 695.5 313.3 692.2Z" fill="#fff" stroke="#000" stroke-width="3.55" stroke-linejoin="round" stroke-linecap="round" />
<path d="M374.8 709.3C374.8 705.5 379.9 701.1 382.5 697.9C385 694.7 388.8 693 390.1 690.3C391.3 687.6 388.1 683.8 390 681.7C391.9 679.6 395.4 677.6 401.4 677.9C407.5 678.2 421 682.2 426.2 683.6C431.5 685 432.1 683.7 432.9 686.1C433.7 688.5 433 693.1 431 697.9C428.9 702.7 424.1 711.1 420.5 715C416.8 719 414.1 720.4 409.1 721.7C404 723.1 394.4 723.2 390 723.1C385.6 722.9 385 723.1 382.5 720.8C379.9 718.5 374.8 713.1 374.8 709.3Z" fill="#fff" stroke="#000" stroke-width="3.55" stroke-linejoin="round" stroke-linecap="round" />
<path d="M455.8 671.2C456.5 666.8 461.3 664.2 466.2 663.6C471.2 663 478.9 663.9 485.3 667.4C491.6 670.9 499.6 679.2 504.4 684.6C509.1 690 512.6 695.8 513.9 699.8C515.2 703.8 514.8 706.5 512 708.4C509.1 710.3 503.1 710.8 496.7 711.2C490.4 711.7 478.8 712.2 473.9 711.2C468.9 710.3 469.3 709 467.2 705.5C465.1 702 463.4 696 461.5 690.3C459.6 684.6 455 675.7 455.8 671.2Z" fill="#fff" stroke="#000" stroke-width="3.55" stroke-linejoin="round" stroke-linecap="round" />
</svg></body></html>
